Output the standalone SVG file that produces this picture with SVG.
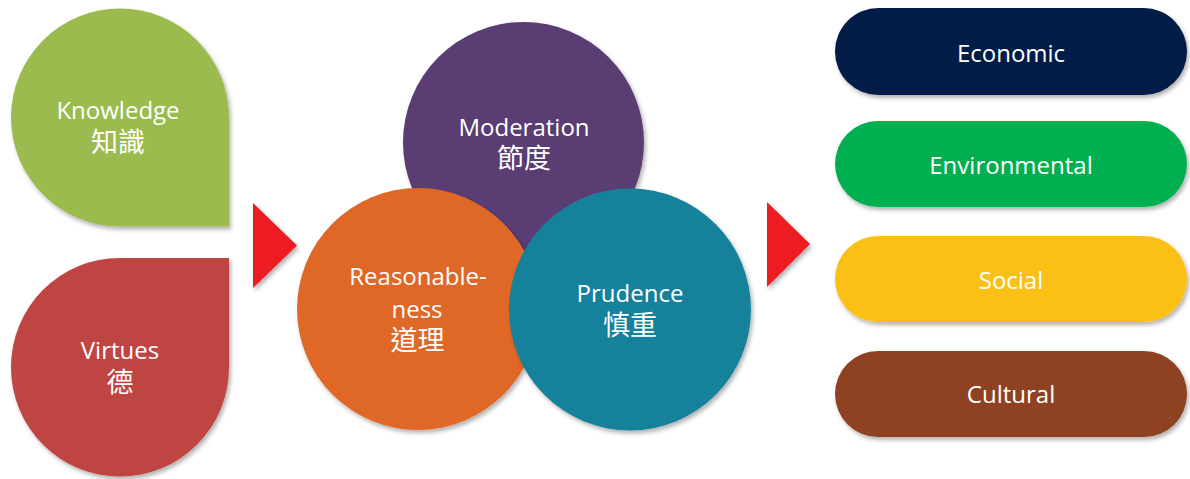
<svg xmlns="http://www.w3.org/2000/svg" width="1190" height="479" viewBox="0 0 1190 479">
<defs>
<filter id="sh" x="-10%" y="-10%" width="125%" height="125%">
<feDropShadow dx="2" dy="3" stdDeviation="2" flood-color="#000" flood-opacity="0.3"/>
</filter>
<style>
.t{font-family:"Open Sans","Noto Sans",sans-serif;font-size:24px;fill:#fff;text-anchor:middle}
.c{font-family:"Noto Sans CJK TC","Noto Sans CJK SC",sans-serif;font-size:27px;fill:#fff;text-anchor:middle}
.s{filter:url(#sh)}
</style>
</defs>
<rect width="1190" height="479" fill="#fff"/>
<g id="knowledge">
<path class="s" d="M229,226.5 L120,226.5 A109,109 0 0 1 11,117.5 A109,109 0 0 1 120,8.5 A109,109 0 0 1 229,117.5 Z" fill="#9BBB4F"/>
<text class="t" x="118" y="119">Knowledge</text>
<text class="c" x="118" y="152">知識</text>
</g>
<g id="virtues">
<path class="s" d="M229,258 L229,367.5 A109,109 0 0 1 120,476.5 A109,109 0 0 1 11,367.5 A109,109 0 0 1 120,258 Z" fill="#BE4542"/>
<text class="t" x="120" y="359">Virtues</text>
<text class="c" x="120" y="392">德</text>
</g>
<g id="connectors">
<polygon class="s" points="253,203 297,245.5 253,288" fill="#ED1C24"/>
<polygon class="s" points="767,202 810,244 767,287" fill="#ED1C24"/>
</g>
<g id="moderation">
<circle class="s" cx="523.5" cy="142.5" r="120.5" fill="#5A3D73"/>
<text class="t" x="524" y="136">Moderation</text>
<text class="c" x="524" y="168">節度</text>
</g>
<g id="reasonableness">
<circle class="s" cx="418" cy="309" r="121" fill="#E06828"/>
<text class="t" x="418" y="285">Reasonable-</text>
<text class="t" x="417" y="318">ness</text>
<text class="c" x="417.5" y="350">道理</text>
</g>
<g id="prudence">
<circle class="s" cx="630" cy="309.5" r="121" fill="#17819A"/>
<text class="t" x="630" y="302">Prudence</text>
<text class="c" x="630" y="335">慎重</text>
</g>
<g id="economic">
<rect class="s" x="835" y="8" width="352" height="87" rx="43.5" fill="#001C46"/>
<text class="t" x="1011" y="62">Economic</text>
</g>
<g id="environmental">
<rect class="s" x="835" y="121" width="352" height="86" rx="43" fill="#00AF4F"/>
<text class="t" x="1011" y="174">Environmental</text>
</g>
<g id="social">
<rect class="s" x="835" y="236" width="352" height="86" rx="43" fill="#FAC018"/>
<text class="t" x="1011" y="289">Social</text>
</g>
<g id="cultural">
<rect class="s" x="835" y="351" width="352" height="86" rx="43" fill="#8F4220"/>
<text class="t" x="1011" y="403">Cultural</text>
</g>
</svg>
